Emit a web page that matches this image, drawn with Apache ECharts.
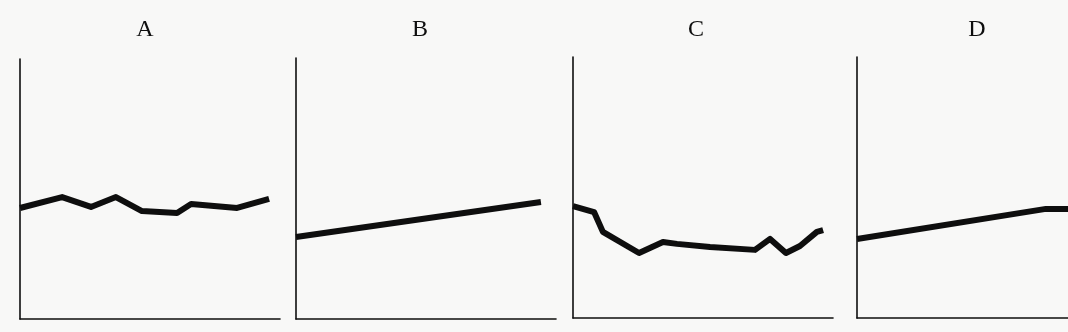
<!DOCTYPE html>
<html>
<head>
<meta charset="utf-8">
<script src="https://cdn.jsdelivr.net/npm/echarts@6/dist/echarts.min.js"></script>
<style>
  html, body { margin: 0; padding: 0; background: #f8f8f7; }
  #chart { width: 1068px; height: 332px; }
</style>
</head>
<body>
<div id="chart"></div>
<script>
// Panel titles
const panelNames = ['A', 'B', 'C', 'D'];

// Series values per panel (x on a 0-100 scale, y on a 0-100 scale)
const xA = [0, 16.2, 27.3, 36.9, 46.9, 60.4, 65.8, 83.5, 95.8];
const yA = [42.7, 46.9, 43.1, 46.9, 41.5, 40.8, 44.2, 42.7, 46.2];

const xB = [0, 94.2];
const yB = [31.4, 44.8];

const xC = [0, 8.1, 11.5, 25.4, 34.6, 40.0, 52.7, 70.0, 75.8, 81.9, 87.3, 93.8, 96.2];
const yC = [42.9, 40.6, 33.0, 24.9, 29.1, 28.4, 27.2, 26.1, 30.3, 24.9, 27.6, 33.0, 33.7];

const xD = [0, 72.7, 81.2];
const yD = [30.3, 41.8, 41.8];

const xs = [xA, xB, xC, xD];
const ys = [yA, yB, yC, yD];

// x-axis extent per panel; the last panel runs off the right edge
const xMax = [100, 100, 100, 81.2];

// Layout of each small panel
const grids = [
  { left: 20,  top: 59, width: 260, height: 260 },
  { left: 296, top: 58, width: 260, height: 261 },
  { left: 573, top: 57, width: 260, height: 261 },
  { left: 857, top: 57, width: 211, height: 261 }
];
const titleCenters = [145, 420, 696, 977];

const ink = '#0e0e0e';
const axisStyle = { color: ink, width: 1.6 };

const chart = echarts.init(document.getElementById('chart'), null, { renderer: 'canvas' });

chart.setOption({
  backgroundColor: '#f8f8f7',
  animation: false,
  title: panelNames.map((t, i) => ({
    text: t,
    left: titleCenters[i],
    top: 18,
    padding: 0,
    textAlign: 'center',
    textStyle: {
      fontFamily: '"Liberation Serif", "DejaVu Serif", serif',
      fontWeight: 'normal',
      fontSize: 24,
      color: ink
    }
  })),
  grid: grids.map(g => Object.assign({ containLabel: false }, g)),
  xAxis: grids.map((g, i) => ({
    type: 'value',
    gridIndex: i,
    min: 0,
    max: xMax[i],
    axisLine: { show: true, onZero: false, lineStyle: axisStyle },
    axisTick: { show: false },
    axisLabel: { show: false },
    splitLine: { show: false }
  })),
  yAxis: grids.map((g, i) => ({
    type: 'value',
    gridIndex: i,
    min: 0,
    max: 100,
    axisLine: { show: true, onZero: false, lineStyle: axisStyle },
    axisTick: { show: false },
    axisLabel: { show: false },
    splitLine: { show: false }
  })),
  series: xs.map((xv, i) => ({
    type: 'line',
    xAxisIndex: i,
    yAxisIndex: i,
    showSymbol: false,
    symbol: 'none',
    clip: false,
    lineStyle: { color: ink, width: 6, join: 'round', cap: 'butt' },
    data: xv.map((x, k) => [x, ys[i][k]])
  }))
});
</script>
</body>
</html>
